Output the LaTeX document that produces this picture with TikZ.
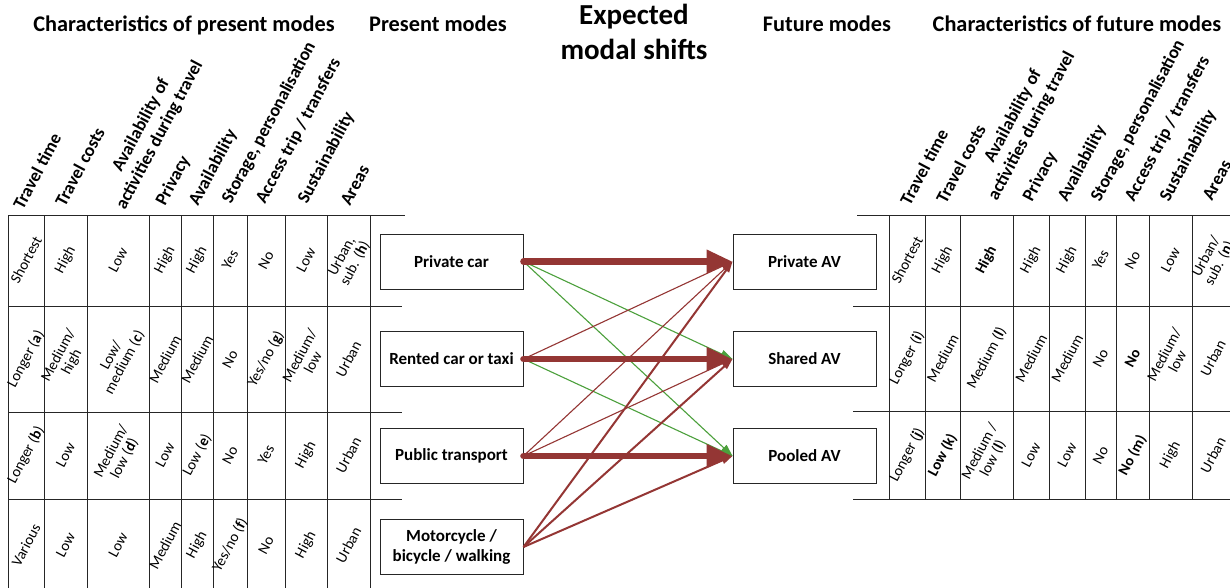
\documentclass[tikz,border=0pt]{standalone}
\usepackage{fontspec}
\setmainfont{Carlito}
\usetikzlibrary{arrows.meta,calc}
\definecolor{arrred}{RGB}{148,54,52}
\definecolor{arrgreen}{RGB}{76,160,60}
\tikzset{
 tabline/.style={line width=0.9pt, black!85},
 hdr/.style={font=\bfseries\fontsize{22.3}{24}\selectfont, inner sep=0, anchor=base},
 bighdr/.style={font=\bfseries\fontsize{29}{32}\selectfont, inner sep=0, anchor=base},
 colhdr/.style={font=\bfseries\fontsize{18}{20}\selectfont, inner sep=0, anchor=base west, rotate=62},
 colhdrc/.style={font=\bfseries\fontsize{18}{20}\selectfont, inner sep=0, anchor=base, rotate=62},
 celltxt/.style={font=\fontsize{15}{15}\selectfont, inner sep=0, align=center, rotate=62},
 mode/.style={draw, line width=0.9pt, black!85, text=black, minimum width=143pt, minimum height=55pt, inner sep=0, align=center, font=\bfseries\fontsize{17}{20}\selectfont},
 bigarr/.style={arrred, line width=6.5pt, line cap=round, -{Triangle[length=26pt,width=22pt]}},
 thinr/.style={arrred, line width=1.1pt, -{Triangle[length=11pt,width=6.5pt]}},
 thing/.style={arrgreen, line width=1.1pt, -{Triangle[length=12pt,width=8pt]}},
 medr/.style={arrred, line width=2pt, -{Triangle[length=11pt,width=7pt]}},
}
\begin{document}
\begin{tikzpicture}[x=1pt,y=-1pt]
\useasboundingbox (0,0) rectangle (1230,588);
\fill[white] (0,0) rectangle (1230,588);
\clip (0,0) rectangle (1230,588);

% titles
\node[hdr] (t1) at (184,32) {Characteristics of present modes};
\node[hdr] (t2) at (438,32) {Present modes};
\node[bighdr] (t3a) at (634,25) {Expected};
\node[bighdr] (t3b) at (634,60) {modal shifts};
\node[hdr] (t4) at (827,32) {Future modes};
\node[hdr] (t5) at (1077,32) {Characteristics of future modes};

% left table lines
\foreach \x in {8,44,87,149,181,213,247,285,327,370}
  \draw[tabline] (\x,215) -- (\x,588);
\foreach \y/\xe in {215/405,306/402,412/402,499/402}
  \draw[tabline] (8,\y) -- (\xe,\y);

% right table lines
\foreach \x in {889,925,960,1013,1049,1085,1116,1149,1192}
  \draw[tabline] (\x,215) -- (\x,499);
\foreach \y/\xs in {215/857,306/853,411/853,499/853}
  \draw[tabline] (\xs,\y) -- (1230,\y);

% left column headers
\node[colhdr] (lh1) at (23,211) {Travel time};
\node[colhdr] (lh2) at (65,208) {Travel costs};
\node[colhdr] (lh3b) at (125,211) {activities during travel};
\node[colhdrc] (lh3a) at ($(lh3b.base)+(-18.5,-9.9)$) {Availability of};
\node[colhdr] (lh4) at (165,207) {Privacy};
\node[colhdr] (lh5) at (198,207) {Availability};
\node[colhdr] (lh6) at (231,205) {Storage, personalisation};
\node[colhdr] (lh7) at (265,205) {Access trip / transfers};
\node[colhdr] (lh8) at (307,205) {Sustainability};
\node[colhdr] (lh9) at (350,207) {Areas};

% right column headers
\node[colhdr] (rh1) at (910,207) {Travel time};
\node[colhdr] (rh2) at (946,205) {Travel costs};
\node[colhdr] (rh3b) at (997,202) {activities during travel};
\node[colhdrc] (rh3a) at ($(rh3b.base)+(-18.5,-9.9)$) {Availability of};
\node[colhdr] (rh4) at (1032,203) {Privacy};
\node[colhdr] (rh5) at (1067,203) {Availability};
\node[colhdr] (rh6) at (1100,203) {Storage, personalisation};
\node[colhdr] (rh7) at (1134,203) {Access trip / transfers};
\node[colhdr] (rh8) at (1169,203) {Sustainability};
\node[colhdr] (rh9) at (1212,202) {Areas};

% left cells
\foreach \x/\t [count=\i] in {26/Shortest, 65.5/High, 118/Low, 165/High, 197/High, 230/Yes, 266/No, 306/Low, 348.5/{Urban,\\sub. (\textbf{h})}}
  \node[celltxt] (l1c\i) at (\x,260) {\t};
\foreach \x/\t [count=\i] in {26/{Longer (\textbf{a})}, 65.5/{Medium/\\high}, 118/{Low/\\medium (\textbf{c})}, 165/Medium, 197/Medium, 230/No, 266/{Yes/no (\textbf{g})}, 306/{Medium/\\low}, 348.5/Urban}
  \node[celltxt] (l2c\i) at (\x,359) {\t};
\foreach \x/\t [count=\i] in {26/{Longer (\textbf{b})}, 65.5/Low, 118/{Medium/\\low (\textbf{d})}, 165/Low, 197/{Low (\textbf{e})}, 230/No, 266/Yes, 306/High, 348.5/Urban}
  \node[celltxt] (l3c\i) at (\x,455) {\t};
\foreach \x/\t [count=\i] in {26/Various, 65.5/Low, 118/Low, 165/Medium, 197/High, 230/{Yes/no (\textbf{f})}, 266/No, 306/High, 348.5/Urban}
  \node[celltxt] (l4c\i) at (\x,545) {\t};

% right cells
\foreach \x/\t [count=\i] in {907/Shortest, 942.5/High, 986.5/\textbf{High}, 1031/High, 1067/High, 1100.5/Yes, 1132.5/No, 1170.5/Low, 1213/{Urban/\\sub. (\textbf{n})}}
  \node[celltxt] (r1c\i) at (\x,260) {\t};
\foreach \x/\t [count=\i] in {907/{Longer (\textbf{i})}, 942.5/Medium, 986.5/{Medium (\textbf{l})}, 1031/Medium, 1067/Medium, 1100.5/No, 1132.5/\textbf{No}, 1170.5/{Medium/\\low}, 1213/Urban}
  \node[celltxt] (r2c\i) at (\x,358) {\t};
\foreach \x/\t [count=\i] in {907/{Longer (\textbf{j})}, 942.5/\textbf{Low (k)}, 986.5/{Medium /\\low (\textbf{l})}, 1031/Low, 1067/Low, 1100.5/No, 1132.5/\textbf{No (m)}, 1170.5/High, 1213/Urban}
  \node[celltxt] (r3c\i) at (\x,455) {\t};

% mode boxes
\node[mode] (pc) at (451.5,261.5) {Private car};
\node[mode] (rc) at (451.5,359) {Rented car or taxi};
\node[mode] (pt) at (451.5,456) {Public transport};
\node[mode] (mb) at (451.5,547) {Motorcycle /\\bicycle / walking};
\node[mode] (pav) at (804.5,261.5) {Private AV};
\node[mode] (sav) at (804.5,359) {Shared AV};
\node[mode] (poav) at (804.5,456) {Pooled AV};

% arrows
\draw[thing] (pc.east) -- (sav.west);
\draw[thing] (pc.east) -- (poav.west);
\draw[thinr] (rc.east) -- (pav.west);
\draw[thing] (rc.east) -- (poav.west);
\draw[thinr] (pt.east) -- (pav.west);
\draw[thinr] (pt.east) -- (sav.west);
\draw[medr] (mb.east) -- (pav.west);
\draw[medr] (mb.east) -- (sav.west);
\draw[medr] (mb.east) -- (poav.west);
\draw[bigarr] (pc.east) -- (pav.west);
\draw[bigarr] (rc.east) -- (sav.west);
\draw[bigarr] (pt.east) -- (poav.west);
\end{tikzpicture}
\end{document}
